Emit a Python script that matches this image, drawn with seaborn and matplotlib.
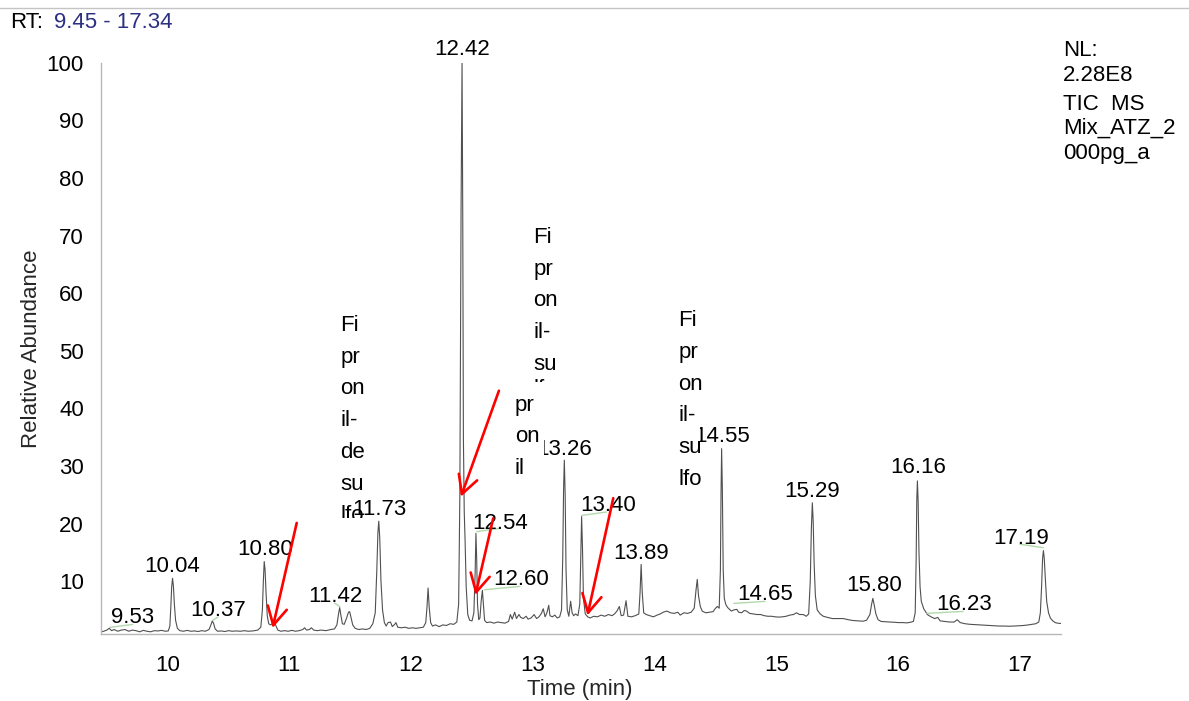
import matplotlib
matplotlib.use("Agg")
import matplotlib.pyplot as plt
from matplotlib.patches import Rectangle
from matplotlib.lines import Line2D
from matplotlib.ticker import MultipleLocator
import pandas as pd
import seaborn as sns

# ---- TIC trace (retention time in minutes, relative abundance in %) ----
time_min = [
    9.455, 9.475, 9.50, 9.52, 9.54, 9.56, 9.59, 9.62, 9.65, 9.68, 9.71, 9.74, 9.77, 9.80, 9.83,
    9.86, 9.89, 9.92, 9.95, 9.98, 10.005, 10.018, 10.026, 10.033, 10.04, 10.047, 10.055, 10.065,
    10.08, 10.10, 10.13, 10.16, 10.19, 10.22, 10.25, 10.28, 10.31, 10.34, 10.355, 10.367, 10.378,
    10.39, 10.41, 10.44, 10.47, 10.50, 10.53, 10.56, 10.60, 10.63, 10.66, 10.70, 10.74, 10.765,
    10.778, 10.786, 10.793, 10.80, 10.808, 10.818, 10.83, 10.845, 10.86, 10.875, 10.89, 10.905,
    10.93, 10.96, 10.99, 11.02, 11.05, 11.08, 11.11, 11.125, 11.14, 11.165, 11.18, 11.20, 11.23,
    11.26, 11.30, 11.34, 11.37, 11.39, 11.405, 11.413, 11.422, 11.435, 11.45, 11.47, 11.485,
    11.495, 11.505, 11.52, 11.54, 11.57, 11.60, 11.63, 11.66, 11.685, 11.705, 11.718, 11.727,
    11.734, 11.742, 11.752, 11.765, 11.78, 11.795, 11.81, 11.83, 11.845, 11.865, 11.875, 11.89,
    11.92, 11.95, 11.98, 12.01, 12.04, 12.07, 12.10, 12.12, 12.13, 12.139, 12.148, 12.16, 12.175,
    12.20, 12.23, 12.26, 12.29, 12.32, 12.35, 12.375, 12.39, 12.40, 12.41, 12.418, 12.424, 12.429,
    12.436, 12.443, 12.452, 12.465, 12.48, 12.50, 12.515, 12.525, 12.532, 12.538, 12.545, 12.555,
    12.565, 12.575, 12.585, 12.593, 12.603, 12.62, 12.65, 12.68, 12.71, 12.74, 12.77, 12.80,
    12.815, 12.83, 12.85, 12.865, 12.885, 12.90, 12.92, 12.945, 12.96, 12.985, 13.01, 13.03,
    13.05, 13.07, 13.085, 13.10, 13.115, 13.13, 13.14, 13.16, 13.18, 13.20, 13.22, 13.235, 13.245,
    13.252, 13.258, 13.265, 13.272, 13.282, 13.295, 13.31, 13.322, 13.335, 13.35, 13.37, 13.385,
    13.393, 13.40, 13.407, 13.415, 13.43, 13.45, 13.47, 13.50, 13.53, 13.56, 13.59, 13.62, 13.65,
    13.67, 13.69, 13.71, 13.725, 13.745, 13.765, 13.78, 13.81, 13.84, 13.87, 13.88, 13.889,
    13.898, 13.91, 13.93, 13.96, 13.99, 14.02, 14.045, 14.07, 14.10, 14.13, 14.16, 14.19, 14.21,
    14.24, 14.27, 14.30, 14.325, 14.34, 14.35, 14.36, 14.375, 14.39, 14.42, 14.45, 14.48, 14.50,
    14.515, 14.53, 14.54, 14.545, 14.55, 14.556, 14.563, 14.572, 14.585, 14.60, 14.63, 14.65,
    14.675, 14.69, 14.715, 14.735, 14.755, 14.78, 14.81, 14.84, 14.87, 14.90, 14.93, 14.96, 14.99,
    15.02, 15.05, 15.08, 15.11, 15.14, 15.165, 15.19, 15.22, 15.245, 15.265, 15.278, 15.287,
    15.295, 15.302, 15.31, 15.32, 15.335, 15.36, 15.385, 15.42, 15.46, 15.50, 15.55, 15.59, 15.63,
    15.67, 15.71, 15.74, 15.768, 15.782, 15.792, 15.802, 15.817, 15.835, 15.86, 15.89, 15.93,
    15.96, 16.00, 16.04, 16.07, 16.10, 16.125, 16.14, 16.148, 16.153, 16.158, 16.164, 16.171,
    16.18, 16.19, 16.21, 16.24, 16.27, 16.30, 16.325, 16.345, 16.38, 16.42, 16.46, 16.485, 16.51,
    16.55, 16.59, 16.63, 16.67, 16.71, 16.75, 16.79, 16.83, 16.87, 16.91, 16.95, 16.99, 17.03,
    17.07, 17.10, 17.13, 17.155, 17.168, 17.178, 17.186, 17.193, 17.20, 17.21, 17.22, 17.235,
    17.25, 17.27, 17.29, 17.31, 17.335,
]
abundance = [
    1.2, 1.3, 1.5, 1.8, 1.4, 1.6, 1.3, 1.5, 1.6, 1.3, 1.5, 1.4, 1.2, 1.45, 1.3,
    1.2, 1.4, 1.35, 1.45, 1.3, 1.35, 2.2, 5.5, 9.0, 10.5, 9.2, 6.0, 3.2,
    1.8, 1.4, 1.3, 1.45, 1.3, 1.35, 1.25, 1.4, 1.3, 1.6, 2.4, 3.1, 2.6,
    1.7, 1.3, 1.35, 1.25, 1.4, 1.3, 1.35, 1.3, 1.4, 1.3, 1.35, 1.5, 2.0,
    5.0, 10.0, 13.4, 12.0, 8.0, 4.0, 2.6, 2.4, 2.6, 3.1, 2.2, 1.5,
    1.3, 1.4, 1.3, 1.45, 1.3, 1.4, 1.6, 1.9, 1.5, 1.6, 1.9, 1.5, 1.4,
    1.5, 1.4, 1.6, 1.7, 2.4, 4.5, 5.4, 4.2, 2.6, 2.5, 3.6, 4.6,
    4.7, 3.8, 2.4, 1.8, 1.6, 1.7, 1.6, 1.8, 2.6, 4.5, 12.0, 18.5,
    20.4, 17.5, 10.0, 5.0, 2.8, 2.2, 2.8, 2.9, 2.1, 2.5, 2.8, 2.0,
    1.9, 2.0, 1.8, 1.9, 1.8, 1.9, 2.0, 2.8, 5.5, 8.8, 5.5, 2.8, 2.2,
    2.4, 2.1, 2.4, 2.3, 2.6, 2.5, 2.9, 6.0, 25.0, 75.0, 100.0, 72.0, 35.0,
    22.0, 17.0, 9.0, 4.2, 3.2, 3.1, 4.5, 11.0, 18.3, 14.0, 6.0, 3.3,
    3.6, 6.5, 8.4, 6.0, 3.2, 2.8, 2.9, 2.7, 2.9, 2.8, 2.7, 3.0,
    4.2, 3.4, 4.6, 3.5, 4.2, 3.7, 3.5, 3.9, 3.4, 3.6, 4.2, 3.5,
    3.8, 4.4, 5.2, 3.8, 4.5, 5.8, 4.0, 3.8, 4.1, 3.6, 3.8, 5.0, 14.0,
    26.0, 31.0, 25.0, 12.0, 5.0, 3.9, 6.5, 4.5, 4.0, 4.3, 4.0, 6.0,
    14.0, 21.2, 16.0, 7.0, 4.3, 3.8, 3.6, 3.9, 3.8, 4.1, 3.9, 4.2, 4.0,
    4.3, 4.8, 5.6, 4.0, 4.1, 6.6, 3.9, 3.8, 4.0, 4.3, 8.0, 12.9,
    8.0, 4.5, 4.2, 4.0, 3.8, 4.1, 4.3, 4.6, 4.8, 4.5, 4.4, 4.6, 4.1,
    4.5, 4.4, 4.6, 5.3, 8.5, 10.3, 7.5, 5.6, 4.8, 4.5, 4.6, 4.7, 5.3,
    5.6, 5.3, 12.0, 25.0, 33.0, 26.0, 12.0, 7.0, 5.9, 5.4, 4.8, 5.0,
    5.1, 4.6, 4.5, 4.9, 4.8, 4.4, 4.3, 4.2, 4.2, 4.0, 3.9, 3.9, 3.8,
    3.75, 3.8, 3.9, 4.1, 4.2, 4.5, 4.2, 4.2, 3.9, 4.3, 10.0, 19.0,
    23.6, 20.5, 13.0, 7.5, 5.0, 4.3, 3.9, 3.7, 3.5, 3.5, 3.5, 3.3, 3.16,
    3.1, 3.04, 3.2, 4.2, 6.0, 7.0, 6.0, 4.3, 3.3, 3.0, 2.95, 2.9,
    2.87, 2.8, 2.8, 2.75, 2.85, 3.0, 4.5, 14.0, 24.0, 27.4, 24.0, 15.0,
    9.0, 6.5, 5.2, 4.2, 3.8, 3.5, 3.7, 3.1, 3.0, 2.9, 2.9, 3.3, 2.8,
    2.6, 2.5, 2.45, 2.4, 2.35, 2.3, 2.25, 2.2, 2.2, 2.17, 2.2, 2.25, 2.3,
    2.4, 2.5, 2.6, 2.9, 4.5, 9.0, 13.8, 15.3, 14.0, 10.0, 6.5, 4.5,
    3.6, 3.1, 2.8, 2.7, 2.65,
]

# ---- peak labels (text anchor = centre / baseline) ----
peak_labels = ["9.53", "10.04", "10.37", "10.80", "11.42", "11.73", "12.42", "12.54", "12.60",
               "13.26", "13.40", "13.89", "14.55", "14.65", "15.29", "15.80", "16.16", "16.23",
               "17.19"]
peak_label_t = [9.712, 10.037, 10.413, 10.797, 11.38, 11.742, 12.416, 12.728, 12.90,
                13.254, 13.615, 13.887, 14.552, 14.905, 15.296, 15.80, 16.163, 16.54, 17.009]
peak_label_y = [2.65, 11.5, 4.03, 14.5, 6.46, 21.45, 101.3, 19.1, 9.24,
                31.9, 22.1, 13.9, 34.2, 6.64, 24.6, 8.2, 28.7, 4.9, 16.5]

# leader lines joining shifted labels to their peaks
leader_t0 = [9.523, 10.367, 11.413, 12.539, 12.600, 13.400, 14.650, 16.237, 17.193]
leader_y0 = [1.96, 3.18, 5.6, 18.6, 8.5, 21.4, 6.13, 4.40, 15.8]
leader_t1 = [9.712, 10.413, 11.37, 12.728, 12.892, 13.605, 14.905, 16.533, 17.0]
leader_y1 = [2.48, 3.75, 6.2, 19.15, 9.08, 22.0, 6.48, 4.74, 16.4]

# ---- compound name boxes (narrow, wrapped text) ----
box_lines = [
    ["Fi", "pr", "on", "il-", "de", "su", "lfo"],
    ["Fi", "pr", "on", "il-", "su", "lfo"],
    ["pr", "on", "il"],
    ["Fi", "pr", "on", "il-", "su", "lfo"],
]
box_t = [11.419, 13.002, 12.851, 14.193]
box_baselines = [
    [53.4, 47.9, 42.4, 36.9, 31.4, 25.9, 20.4],
    [68.7, 63.2, 57.7, 52.2, 46.7, 42.3],
    [39.6, 34.1, 28.6],
    [54.24, 48.74, 43.23, 37.73, 32.23, 26.72],
]

# white box backgrounds that clip / hide text underneath: (t0, t1, y0, y1)
mask_t0 = [11.39, 12.99, 12.81, 14.16]
mask_t1 = [11.60, 13.25, 13.09, 14.376]
mask_y0 = [19.3, 38.0, 26.7, 25.0]
mask_y1 = [21.0, 44.6, 44.6, 58.8]

# ---- red arrows ----
arrow_start_t = [11.06, 12.721, 12.674, 13.66]
arrow_start_y = [20.1, 43.06, 20.9, 24.4]
arrow_tip_t = [10.862, 12.409, 12.528, 13.448]
arrow_tip_y = [1.87, 24.66, 7.6, 4.04]

# ---- header / info text ----
rt_range = "9.45 - 17.34"
info_lines = ["NL:", "2.28E8", "TIC  MS", "Mix_ATZ_2", "000pg_a"]
info_baseline_px = [56.3, 80.7, 109.7, 134.0, 158.7]

x_major = list(range(10, 18))
y_major = list(range(10, 101, 10))

sns.set_style("white")
plt.rcParams["font.family"] = ["Liberation Sans", "DejaVu Sans"]

W, H = 1189, 701
fig = plt.figure(figsize=(W / 100, H / 100), dpi=100)
ax = fig.add_axes([100.7 / W, 1 - 634 / H, 960.6 / W, 571.3 / H])

df = pd.DataFrame({"Time (min)": time_min, "Relative Abundance": abundance})
sns.lineplot(data=df, x="Time (min)", y="Relative Abundance", ax=ax,
             color="#505050", linewidth=0.8, sort=False, estimator=None, zorder=2)

ax.set_xlim(9.45, 17.34)
ax.set_ylim(0.82, 100)

for side in ("top", "right"):
    ax.spines[side].set_visible(False)
for side in ("left", "bottom"):
    ax.spines[side].set_color("#b8b8b8")
    ax.spines[side].set_linewidth(1.0)

ax.set_xticks(x_major)
ax.set_yticks(y_major)
ax.xaxis.set_minor_locator(MultipleLocator(0.05))
ax.yaxis.set_minor_locator(MultipleLocator(2))
ax.tick_params(axis="x", which="major", length=10, width=1, color="#b8b8b8",
               labelsize=16, pad=5, labelcolor="black")
ax.tick_params(axis="x", which="minor", length=3.2, width=0.8, color="#b8b8b8")
ax.tick_params(axis="y", which="major", length=10.6, width=1, color="#b8b8b8",
               labelsize=16, pad=1.5, labelcolor="black")
ax.tick_params(axis="y", which="minor", length=7.7, width=0.8, color="#b8b8b8")

ax.set_xlabel("Time (min)", fontsize=16, va="center")
ax.xaxis.set_label_coords((580 - 100.7) / 960.6, -(690 - 634) / 571.3)
ax.set_ylabel("Relative Abundance", fontsize=16, va="center", ha="center")
ax.yaxis.set_label_coords((32 - 100.7) / 960.6, (634 - 348.5) / 571.3)

# peak labels
for lab, t, y in zip(peak_labels, peak_label_t, peak_label_y):
    ax.text(t, y, lab, ha="center", va="baseline", fontsize=16, color="black",
            zorder=2.5, clip_on=False)

# leader lines
for t0, y0, t1, y1 in zip(leader_t0, leader_y0, leader_t1, leader_y1):
    ax.plot([t0, t1], [y0, y1], color="#b2d8ac", lw=1.0, zorder=2.4)

# compound name boxes
for k, (lines, t, ybs) in enumerate(zip(box_lines, box_t, box_baselines)):
    z = 4 if k in (2, 3) else 2.5
    for s, yb in zip(lines, ybs):
        ax.text(t, yb, s, ha="left", va="baseline", fontsize=16, color="black", zorder=z)

for t0, t1, y0, y1 in zip(mask_t0, mask_t1, mask_y0, mask_y1):
    ax.add_patch(Rectangle((t0, y0), t1 - t0, y1 - y0, facecolor="white",
                           edgecolor="none", zorder=3))

# red arrows
for ts, ys, tt, yt in zip(arrow_start_t, arrow_start_y, arrow_tip_t, arrow_tip_y):
    ax.annotate("", xy=(tt, yt), xytext=(ts, ys),
                arrowprops=dict(arrowstyle="->,head_length=13,head_width=7",
                                color="#ff0000", lw=1.9, shrinkA=0, shrinkB=0,
                                mutation_scale=1),
                zorder=5)

# header
fig.add_artist(Line2D([0, 1], [1 - 7.5 / H] * 2, color="#c4c4c4", lw=1.0))
fig.text(10 / W, 1 - 22.5 / H, "RT:", ha="left", va="center", fontsize=16, color="black")
fig.text(54 / W, 1 - 22.5 / H, rt_range, ha="left", va="center", fontsize=16, color="#2b3080")
for s, py in zip(info_lines, info_baseline_px):
    fig.text(1062.7 / W, 1 - py / H, s, ha="left", va="baseline", fontsize=16, color="black")

fig.savefig("out.png", dpi=100)
